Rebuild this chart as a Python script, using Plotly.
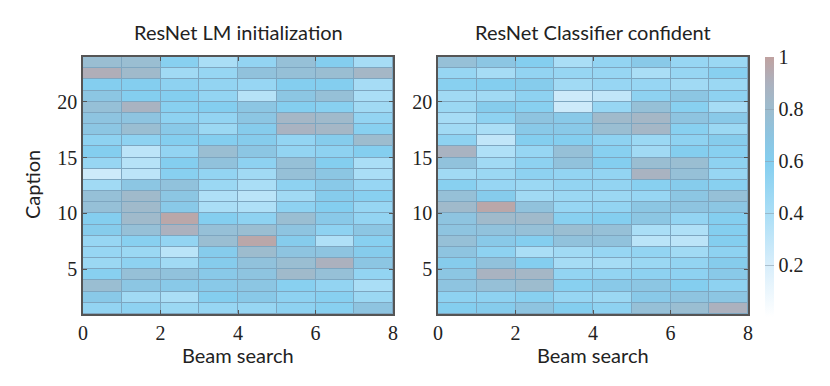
import plotly.graph_objects as go

# cell edges
beam_edges = [0, 1, 2, 3, 4, 5, 6, 7, 8]
caption_edges = list(range(1, 25))

# rows listed top (caption 23-24) to bottom (caption 1-2)
lm_init = [
    [0.78, 0.78, 0.58, 0.40, 0.52, 0.75, 0.60, 0.42],
    [0.92, 0.82, 0.45, 0.50, 0.72, 0.75, 0.78, 0.85],
    [0.60, 0.60, 0.55, 0.52, 0.50, 0.60, 0.60, 0.42],
    [0.68, 0.60, 0.60, 0.52, 0.35, 0.68, 0.75, 0.40],
    [0.75, 0.88, 0.58, 0.60, 0.68, 0.60, 0.58, 0.45],
    [0.70, 0.70, 0.55, 0.52, 0.68, 0.85, 0.82, 0.52],
    [0.68, 0.78, 0.65, 0.48, 0.62, 0.88, 0.85, 0.58],
    [0.55, 0.55, 0.60, 0.60, 0.62, 0.52, 0.62, 0.80],
    [0.60, 0.32, 0.52, 0.78, 0.68, 0.52, 0.55, 0.60],
    [0.50, 0.35, 0.60, 0.72, 0.55, 0.75, 0.60, 0.40],
    [0.25, 0.32, 0.58, 0.52, 0.45, 0.75, 0.68, 0.40],
    [0.45, 0.68, 0.72, 0.48, 0.40, 0.55, 0.65, 0.50],
    [0.75, 0.82, 0.68, 0.38, 0.33, 0.45, 0.62, 0.58],
    [0.75, 0.82, 0.65, 0.40, 0.38, 0.55, 0.60, 0.50],
    [0.60, 0.82, 0.97, 0.60, 0.55, 0.78, 0.65, 0.52],
    [0.62, 0.75, 0.90, 0.75, 0.78, 0.70, 0.55, 0.68],
    [0.50, 0.58, 0.52, 0.78, 0.97, 0.62, 0.38, 0.58],
    [0.50, 0.48, 0.33, 0.62, 0.80, 0.70, 0.70, 0.62],
    [0.48, 0.55, 0.45, 0.62, 0.72, 0.78, 0.90, 0.68],
    [0.58, 0.75, 0.72, 0.65, 0.70, 0.82, 0.75, 0.52],
    [0.78, 0.68, 0.65, 0.65, 0.68, 0.58, 0.52, 0.40],
    [0.65, 0.45, 0.40, 0.60, 0.65, 0.55, 0.58, 0.48],
    [0.52, 0.55, 0.48, 0.50, 0.50, 0.55, 0.58, 0.70],
]

cls_confident = [
    [0.75, 0.68, 0.60, 0.40, 0.52, 0.65, 0.50, 0.48],
    [0.50, 0.42, 0.52, 0.50, 0.50, 0.40, 0.50, 0.58],
    [0.58, 0.60, 0.62, 0.45, 0.50, 0.50, 0.45, 0.48],
    [0.45, 0.45, 0.55, 0.25, 0.30, 0.55, 0.68, 0.55],
    [0.48, 0.62, 0.58, 0.25, 0.50, 0.75, 0.58, 0.42],
    [0.42, 0.55, 0.70, 0.65, 0.82, 0.85, 0.70, 0.65],
    [0.45, 0.40, 0.65, 0.65, 0.78, 0.85, 0.58, 0.48],
    [0.55, 0.30, 0.60, 0.60, 0.55, 0.48, 0.55, 0.62],
    [0.88, 0.38, 0.50, 0.75, 0.58, 0.45, 0.60, 0.58],
    [0.72, 0.45, 0.55, 0.72, 0.60, 0.78, 0.78, 0.55],
    [0.45, 0.48, 0.55, 0.52, 0.52, 0.88, 0.75, 0.50],
    [0.58, 0.50, 0.48, 0.52, 0.52, 0.58, 0.62, 0.58],
    [0.75, 0.62, 0.45, 0.48, 0.48, 0.50, 0.68, 0.75],
    [0.82, 0.97, 0.72, 0.50, 0.52, 0.68, 0.70, 0.68],
    [0.70, 0.82, 0.82, 0.58, 0.60, 0.68, 0.52, 0.60],
    [0.70, 0.72, 0.75, 0.78, 0.75, 0.40, 0.38, 0.60],
    [0.75, 0.65, 0.60, 0.72, 0.72, 0.33, 0.32, 0.60],
    [0.70, 0.55, 0.40, 0.45, 0.50, 0.52, 0.45, 0.55],
    [0.62, 0.72, 0.60, 0.42, 0.42, 0.48, 0.52, 0.62],
    [0.68, 0.88, 0.85, 0.52, 0.52, 0.55, 0.55, 0.65],
    [0.70, 0.75, 0.80, 0.58, 0.65, 0.68, 0.60, 0.55],
    [0.55, 0.55, 0.58, 0.50, 0.48, 0.65, 0.70, 0.68],
    [0.60, 0.62, 0.70, 0.60, 0.55, 0.75, 0.78, 0.90],
]

titles = ["ResNet LM initialization", "ResNet Classifier confident"]
cbar_ticks = [0.2, 0.4, 0.6, 0.8, 1]
cbar_labels = ["0.2", "0.4", "0.6", "0.8", "1"]

colorscale = [
    [0.0, "rgb(255,255,255)"],
    [0.2, "rgb(216,238,251)"],
    [0.4, "rgb(170,222,246)"],
    [0.6, "rgb(132,206,239)"],
    [0.7, "rgb(142,196,224)"],
    [0.8, "rgb(157,188,206)"],
    [0.9, "rgb(172,177,190)"],
    [1.0, "rgb(192,162,160)"],
]

serif = "Liberation Serif"
sans = "Lato"

# page body adds an 8px offset; plot area in pixels (left, right, top, bottom)
OFF = 8
L, R, T, B = 83, 748, 57, 314
W, H = R - L, B - T


def px_x(x):
    return (x - L) / W


def px_y(y):
    return 1 - (y - T) / H


fig = go.Figure()

for i, z in enumerate([lm_init, cls_confident]):
    fig.add_trace(go.Heatmap(
        x=beam_edges,
        y=caption_edges,
        z=z[::-1],
        zmin=0, zmax=1,
        colorscale=colorscale,
        xgap=1, ygap=1,
        xaxis="x" if i == 0 else "x2",
        yaxis="y" if i == 0 else "y2",
        showscale=(i == 1),
        colorbar=dict(
            x=px_x(765), xanchor="left", xpad=0,
            y=1, yanchor="top", ypad=0, len=260 / H, lenmode="fraction",
            thickness=9, outlinewidth=0,
            tickvals=cbar_ticks, ticktext=cbar_labels,
            ticks="inside", ticklen=9, tickcolor="rgba(140,160,175,0.6)",
            tickfont=dict(family=serif, size=20, color="#222"),
        ),
    ))

axis_common = dict(
    showline=True, linecolor="#555", linewidth=1.5, mirror="ticks",
    ticks="inside", ticklen=4, tickcolor="#555",
    showgrid=False, zeroline=False, automargin=False,
    tickfont=dict(family=serif, size=20, color="#222"),
)

fig.update_layout(
    width=830, height=386,
    margin=dict(l=L - OFF, r=830 - R + OFF, t=T - OFF, b=386 - B + OFF, autoexpand=False),
    paper_bgcolor="white",
    plot_bgcolor="rgb(126,166,192)",
    xaxis=dict(domain=[0, px_x(393)], range=[0, 8], tickvals=[0, 2, 4, 6, 8],
               anchor="y", **axis_common),
    yaxis=dict(domain=[0, 1], range=[1, 24], tickvals=[5, 10, 15, 20],
               anchor="x", **axis_common),
    xaxis2=dict(domain=[px_x(438), 1], range=[0, 8], tickvals=[0, 2, 4, 6, 8],
                anchor="y2", **axis_common),
    yaxis2=dict(domain=[0, 1], range=[1, 24], tickvals=[5, 10, 15, 20],
                anchor="x2", **axis_common),
    font=dict(family=sans, color="#222"),
)

for cx, t in zip([238, 593], titles):
    fig.add_annotation(text=t, x=px_x(cx), y=px_y(32), xref="paper", yref="paper",
                       xanchor="center", yanchor="middle", showarrow=False,
                       font=dict(family=sans, size=20, color="#222"))
    fig.add_annotation(text="Beam search", x=px_x(cx), y=px_y(355), xref="paper",
                       yref="paper", xanchor="center", yanchor="middle", showarrow=False,
                       font=dict(family=sans, size=20, color="#222"))

fig.add_annotation(text="Caption", x=px_x(32), y=px_y(185), xref="paper", yref="paper",
                   xanchor="center", yanchor="middle", showarrow=False, textangle=-90,
                   font=dict(family=sans, size=20, color="#222"))

fig.write_html("out.html")
